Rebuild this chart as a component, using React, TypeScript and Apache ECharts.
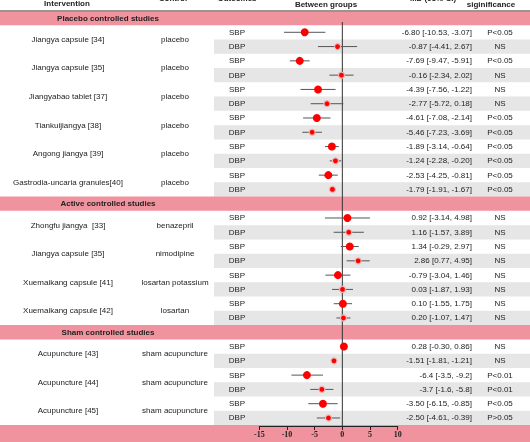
import React, { useEffect, useRef } from "react";
import * as echarts from "echarts";

const groupTitles = ["Placebo controlled studies", "Active controlled studies", "Sham controlled studies"];
const groupSizes = [6, 4, 3];
const interventions = [
  "Jiangya capsule [34]", "Jiangya capsule [35]", "Jiangyabao tablet [37]", "Tiankuijiangya [38]",
  "Angong jiangya [39]", "Gastrodia-uncaria granules[40]", "Zhongfu jiangya  [33]", "Jiangya capsule [35]",
  "Xuemaikang capsule [41]", "Xuemaikang capsule [42]", "Acupuncture [43]", "Acupuncture [44]", "Acupuncture [45]",
];
const controls = [
  "placebo", "placebo", "placebo", "placebo", "placebo", "placebo", "benazepril", "nimodipine",
  "losartan potassium", "losartan", "sham acupuncture", "sham acupuncture", "sham acupuncture",
];
const outcomes = ["SBP", "DBP"];
const sbpMean = [-6.8, -7.69, -4.39, -4.61, -1.89, -2.53, 0.92, 1.34, -0.79, 0.1, 0.28, -6.4, -3.5];
const sbpLow = [-10.53, -9.47, -7.56, -7.08, -3.14, -4.25, -3.14, -0.29, -3.04, -1.55, -0.3, -3.5, -6.15];
const sbpHigh = [-3.07, -5.91, -1.22, -2.14, -0.64, -0.81, 4.98, 2.97, 1.46, 1.75, 0.86, -9.2, -0.85];
const dbpMean = [-0.87, -0.16, -2.77, -5.46, -1.24, -1.79, 1.16, 2.86, 0.03, 0.2, -1.51, -3.7, -2.5];
const dbpLow = [-4.41, -2.34, -5.72, -7.23, -2.28, -1.91, -1.57, 0.77, -1.87, -1.07, -1.81, -1.6, -4.61];
const dbpHigh = [2.67, 2.02, 0.18, -3.69, -0.2, -1.67, 3.89, 4.95, 1.93, 1.47, -1.21, -5.8, -0.39];
const sbpLabels = [
  "-6.80 [-10.53, -3.07]", "-7.69 [-9.47, -5.91]", "-4.39 [-7.56, -1.22]", "-4.61 [-7.08, -2.14]",
  "-1.89 [-3.14, -0.64]", "-2.53 [-4.25, -0.81]", "0.92 [-3.14, 4.98]", "1.34 [-0.29, 2.97]",
  "-0.79 [-3.04, 1.46]", "0.10 [-1.55, 1.75]", "0.28 [-0.30, 0.86]", "-6.4 [-3.5, -9.2]", "-3.50 [-6.15, -0.85]",
];
const dbpLabels = [
  "-0.87 [-4.41, 2.67]", "-0.16 [-2.34, 2.02]", "-2.77 [-5.72, 0.18]", "-5.46 [-7.23, -3.69]",
  "-1.24 [-2.28, -0.20]", "-1.79 [-1.91, -1.67]", "1.16 [-1.57, 3.89]", "2.86 [0.77, 4.95]",
  "0.03 [-1.87, 1.93]", "0.20 [-1.07, 1.47]", "-1.51 [-1.81, -1.21]", "-3.7 [-1.6, -5.8]", "-2.50 [-4.61, -0.39]",
];
const sbpSig = ["P<0.05", "P<0.05", "NS", "P<0.05", "P<0.05", "P<0.05", "NS", "NS", "NS", "NS", "NS", "P<0.01", "P<0.05"];
const dbpSig = ["NS", "NS", "NS", "P<0.05", "P<0.05", "P<0.05", "NS", "NS", "NS", "NS", "NS", "P<0.01", "P>0.05"];
const xMin = -15;
const xMax = 10;
const xStep = 5;

const FONT = "Arial, 'Liberation Sans', sans-serif";
const PINK = "#f0939e";
const GRAY = "#e6e6e6";
const TXT = "#222";

type Slot = { kind: "group" | "sbp" | "dbp" | "foot"; study: number; group: number };

function buildSlots(): Slot[] {
  const slots: Slot[] = [];
  let s = 0;
  groupTitles.forEach((_, g) => {
    slots.push({ kind: "group", study: -1, group: g });
    for (let k = 0; k < groupSizes[g]; k++) {
      slots.push({ kind: "sbp", study: s, group: g });
      slots.push({ kind: "dbp", study: s, group: g });
      s++;
    }
  });
  slots.push({ kind: "foot", study: -1, group: -1 });
  return slots;
}

export default function App() {
  const ref = useRef<HTMLDivElement>(null);
  useEffect(() => {
    if (!ref.current) return;
    const chart = echarts.init(ref.current, undefined, { renderer: "svg" });
    const slots = buildSlots();
    const cats = slots.map((_, i) => String(i));
    const axisOffset = -13.4;

    const sbpPts: number[][] = [];
    const dbpPts: number[][] = [];
    const bars: number[][] = [];
    slots.forEach((sl, i) => {
      if (sl.kind === "sbp") {
        sbpPts.push([sbpMean[sl.study], i]);
        bars.push([sbpLow[sl.study], sbpHigh[sl.study], i]);
      } else if (sl.kind === "dbp") {
        dbpPts.push([dbpMean[sl.study], i]);
        bars.push([dbpLow[sl.study], dbpHigh[sl.study], i]);
      }
    });

    const txt = (text: string, x: number, y: number, align: string, bold = false, size = 8) => ({
      type: "text",
      x,
      y,
      style: {
        text,
        fill: TXT,
        fontSize: size,
        fontFamily: FONT,
        fontWeight: bold ? "bold" : "normal",
        align,
        verticalAlign: "middle",
      },
    });

    chart.setOption({
      animation: false,
      grid: { left: 259.3, right: 132.3, top: 10.86, bottom: 2.6 },
      xAxis: {
        type: "value",
        min: xMin,
        max: xMax,
        interval: xStep,
        position: "bottom",
        offset: axisOffset,
        axisLine: { show: true, lineStyle: { color: "#222", width: 1 } },
        axisTick: { show: true, length: 4, lineStyle: { color: "#222" } },
        axisLabel: {
          margin: 4,
          fontSize: 8,
          fontWeight: "bold",
          fontFamily: "'Times New Roman', 'Liberation Serif', serif",
          color: "#222",
        },
        splitLine: { show: false },
        z: 10,
      },
      yAxis: {
        type: "category",
        data: cats,
        inverse: true,
        show: false,
      },
      graphic: [
        txt("Intervention", 67, 3.5, "center", true),
        txt("Control", 173, -1.5, "center", true),
        txt("Outcomes", 237, -1.5, "center", true),
        txt("Between groups", 326, 4, "center", true),
        txt("MD (95% CI)", 433, -1.5, "center", true),
        txt("Statistical", 491, -5, "center", true),
        txt("siginificance", 491, 4, "center", true),
      ],
      series: [
        {
          type: "custom",
          z: 1,
          silent: true,
          data: slots.map((_, i) => [0, i]),
          encode: { x: 0, y: 1 },
          renderItem: (params: any, api: any) => {
            const i = api.value(1);
            const sl = slots[i];
            const y = api.coord([0, i])[1];
            const h = api.size([0, 1])[1];
            const W = api.getWidth();
            const children: any[] = [];
            if (sl.kind === "group" || sl.kind === "foot") {
              children.push({
                type: "rect",
                shape: { x: 0, y: y - h / 2, width: W, height: sl.kind === "foot" ? h + 4 : h },
                style: { fill: PINK },
              });
              if (i === 0) {
                children.push({
                  type: "line",
                  shape: { x1: 0, y1: y - h / 2, x2: W, y2: y - h / 2 },
                  style: { stroke: "#666", lineWidth: 1 },
                });
              }
            } else if (sl.kind === "dbp") {
              children.push({
                type: "rect",
                shape: { x: 214, y: y - h / 2, width: W - 214, height: h },
                style: { fill: GRAY },
              });
            }
            return { type: "group", children };
          },
        },
        {
          type: "custom",
          z: 3,
          silent: true,
          data: [[0, 0]],
          encode: { x: 0, y: 1 },
          renderItem: (params: any, api: any) => {
            const p = api.coord([0, 0]);
            const h = api.size([0, 1])[1];
            const cs = params.coordSys;
            return {
              type: "line",
              shape: { x1: p[0], y1: p[1] + h * 0.28, x2: p[0], y2: cs.y + cs.height + axisOffset },
              style: { stroke: "#333", lineWidth: 1 },
            };
          },
        },
        {
          type: "custom",
          z: 4,
          silent: true,
          data: bars,
          encode: { x: [0, 1], y: 2 },
          renderItem: (params: any, api: any) => {
            const a = api.coord([api.value(0), api.value(2)]);
            const b = api.coord([api.value(1), api.value(2)]);
            return {
              type: "line",
              shape: { x1: a[0], y1: a[1], x2: b[0], y2: b[1] },
              style: { stroke: "#555", lineWidth: 1 },
            };
          },
        },
        {
          type: "scatter",
          z: 5,
          data: sbpPts,
          symbol: "circle",
          symbolSize: 8,
          itemStyle: { color: "#ff0000", opacity: 1 },
        },
        {
          type: "scatter",
          z: 5,
          data: dbpPts,
          symbol: "circle",
          symbolSize: 6,
          itemStyle: { color: "#ff0000", borderColor: "#f2b4b4", borderWidth: 1.2, opacity: 1 },
        },
        {
          type: "custom",
          z: 6,
          silent: true,
          data: slots.map((_, i) => [0, i]),
          encode: { x: 0, y: 1 },
          renderItem: (params: any, api: any) => {
            const i = api.value(1);
            const sl = slots[i];
            const y = api.coord([0, i])[1];
            const h = api.size([0, 1])[1];
            const children: any[] = [];
            if (sl.kind === "group") {
              children.push(txt(groupTitles[sl.group], 108, y, "center", true));
            } else if (sl.kind === "sbp" || sl.kind === "dbp") {
              const isS = sl.kind === "sbp";
              if (isS) {
                children.push(txt(interventions[sl.study], 68, y + h / 2, "center"));
                children.push(txt(controls[sl.study], 175, y + h / 2, "center"));
              }
              children.push(txt(outcomes[isS ? 0 : 1], 237, y, "center"));
              children.push(txt((isS ? sbpLabels : dbpLabels)[sl.study], 472, y, "right"));
              children.push(txt((isS ? sbpSig : dbpSig)[sl.study], 500, y, "center"));
            }
            return { type: "group", children };
          },
        },
      ],
    });
    return () => chart.dispose();
  }, []);
  return <div ref={ref} style={{ position: "fixed", left: 0, top: 0, width: 530, height: 442 }} />;
}
